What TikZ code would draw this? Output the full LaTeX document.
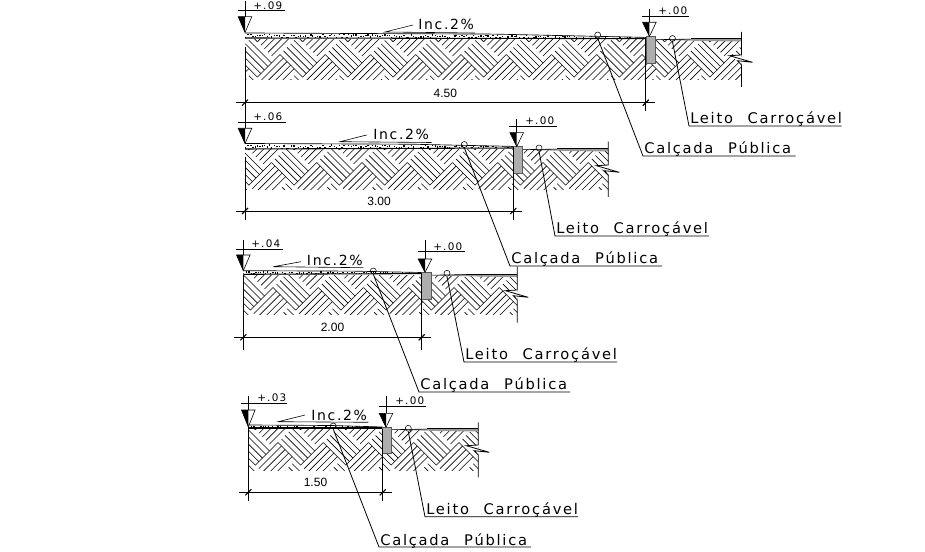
\documentclass[tikz,border=0pt]{standalone}
\usepackage{fontspec}
\setmainfont{Liberation Sans}
\newfontfamily\cadfont[LetterSpace=12]{DejaVu Sans}
\newfontfamily\cadlvlfont[LetterSpace=12]{DejaVu Sans}
\tikzset{
  px/.style={x=0.75pt,y=-0.75pt},
  base/.style={line width=0.6pt,black},
  thinl/.style={line width=0.45pt,black},
  hatchl/.style={line width=0.45pt,black},
  cadbig/.style={inner sep=0pt,anchor=base west,font=\cadfont\fontsize{11}{11}\selectfont},
  cadinc/.style={inner sep=0pt,anchor=base west,font=\cadfont\fontsize{10.5}{11}\selectfont},
  cadlvl/.style={inner sep=0pt,anchor=base west,font=\cadlvlfont\fontsize{7.8}{8}\selectfont},
  dimt/.style={inner sep=0pt,anchor=center,font=\fontsize{9}{9}\selectfont},
  ringm/.style={circle,draw,line width=0.4pt,inner sep=0pt,minimum size=4.5pt},
  curbb/.style={fill=black!32,draw=black!65,line width=0.4pt},
}
% weave hatch: #1 xl, #2 xr, #3 ytop, #4 ybot, #5 x0, #6 y0
\newcommand{\weave}[6]{%
  \begin{scope}
    \clip (#1,#3) rectangle (#2,#4);
    \begin{scope}[shift={(#5,#6)}]
    \begin{scope}[x={(.53033pt,-.53033pt)},y={(.53033pt,.53033pt)}]
      \foreach \i in {-2,...,11}{
        \foreach \j in {-2,...,2}{
          \begin{scope}[shift={({\i*32+\j*25},{\i*32-\j*25})}]
            \foreach \k in {0,5,...,20}{ \draw[hatchl] (0,\k) -- (32,\k); }
            \foreach \k in {0,5,...,20}{ \draw[hatchl] (32+\k,0) -- (32+\k,32); }
          \end{scope}
        }
      }
    \end{scope}
    \end{scope}
  \end{scope}
}
% level mark: #1 id, #2 x, #3 ytop, #4 yh, #5 ytri, #6 yapex, #7 xr, #8 text, #9 textx
\newcommand{\lvl}[9]{%
  \coordinate (#1top) at (#2,#3);
  \coordinate (#1apex) at (#2,#6);
  \coordinate (#1l) at ({#2-6.8},#5);
  \coordinate (#1r) at ({#2+6.8},#5);
  \coordinate (#1m) at (#2,#5);
  \coordinate (#1hl) at ({#2-7.5},#4);
  \coordinate (#1hr) at (#7,#4);
  \draw[base] (#1top) -- (#1m);
  \draw[base] (#1hl) -- (#1hr);
  \fill[black] (#1l) -- (#1m) -- (#1apex) -- cycle;
  \draw[thinl] (#1l) -- (#1r) -- (#1apex) -- cycle;
  \node[cadlvl] (#1t) at (#9,{#4-1.5}) {#8};
}
% callout: #1 id, #2 cx, #3 cy, #4 x, #5 y, #6 xend, #7 text
\newcommand{\callout}[7]{%
  \node[ringm] (#1c) at (#2,#3) {};
  \coordinate (#1a) at (#4,#5);
  \coordinate (#1b) at (#6,#5);
  \draw[base] (#1c.south) -- (#1a) -- (#1b);
  \node[cadbig] (#1t) at ({#4+1},{#5-2}) {#7};
}
% incline: #1 id, #2 x0, #3 y0, #4 x1, #5 y1, #6 xend, #7 yend, #8 textx, #9 texty
\newcommand{\incl}[9]{%
  \coordinate (#1a) at (#2,#3);
  \coordinate (#1b) at (#4,#5);
  \coordinate (#1c) at (#6,#7);
  \draw[thinl] (#1b) -- (#1a) -- (#1c);
  \node[cadinc] (#1t) at (#8,#9) {Inc.2\%};
}
% dimension: #1 id, #2 xl, #3 xr, #4 y, #5 ytopl, #6 ytopr, #7 ybot, #8 text
\newcommand{\dimn}[8]{%
  \coordinate (#1lt) at (#2,#5);
  \coordinate (#1lb) at (#2,#7);
  \coordinate (#1rt) at (#3,#6);
  \coordinate (#1rb) at (#3,#7);
  \coordinate (#1a) at ({#2-9},#4);
  \coordinate (#1b) at ({#3+9},#4);
  \draw[base] (#1lt) -- (#1lb);
  \draw[base] (#1rt) -- (#1rb);
  \draw[base] (#1a) -- (#1b);
  \draw[line width=0.8pt] ({#2-3},{#4+3}) -- ({#2+3},{#4-3});
  \draw[line width=0.8pt] ({#3-3},{#4+3}) -- ({#3+3},{#4-3});
  \node[dimt] (#1t) at ({(#2+#3)/2},{#4-9.5}) {#8};
}
% speckled walk surface: #1 xl, #2 ytl, #3 ybl, #4 xr, #5 ytr, #6 ybr
\newcommand{\walk}[6]{%
  \coordinate (wtl) at (#1,#2);
  \coordinate (wtm) at ({#1+.62*(#4-#1)},{#2+.25*(#5-#2)});
  \coordinate (wtr) at (#4,#5);
  \coordinate (wbr) at (#4,#6);
  \coordinate (wbl) at (#1,#3);
  \fill[white] (wtl) -- (wtm) -- (wtr) -- (wbr) -- (wbl) -- cycle;
  \pgfmathsetseed{7}
  \begin{scope}
  \clip (wtl) -- (wtm) -- (wtr) -- (wbr) -- (wbl) -- cycle;
  \pgfmathsetmacro{\stp}{2.4}
  \foreach \t in {0,\stp,...,410}{
    \pgfmathsetmacro{\xx}{#1+\t}
    \pgfmathsetmacro{\yy}{#2+(#3-#2)*(0.1+0.7*rnd)+0.4*(#5-#2)*\t/(#4-#1)}
    \pgfmathsetmacro{\ww}{0.6+1.4*rnd}
    \fill[black] (\xx,\yy) rectangle ({\xx+\ww},{\yy+1.3});
  }
  \end{scope}
  \draw[line width=0.5pt,black] (wtl) -- (wtm) -- (wtr);
  \draw[line width=0.8pt,black] (wbl) -- (wbr);
}
% road: #1 xl, #2 xr, #3 y
\newcommand{\road}[3]{%
  \fill[white] (#1,{#3-2}) rectangle (#2,{#3+1});
  \fill[black!40] (#1,{#3+1.2}) -- ({#1+35},{#3+.4}) -- (#2,{#3+.4}) -- (#2,{#3+3}) -- ({#1+50},{#3+2.6}) -- cycle;
  \draw[thinl] (#1,{#3+1.2}) -- ({#1+35},{#3+.6});
  \draw[line width=0.7pt] ({#1+35},{#3+.4}) -- (#2,{#3+.4});
}
% break symbol and end line: #1 x, #2 y, #3 ytop, #4 ybot
\newcommand{\brk}[4]{%
  \fill[white] (#1,#2) -- ({#1-12},{#2+.7}) -- ({#1-4},{#2+5.7}) -- (#1,{#2+10}) -- cycle;
  \draw[base] (#1,#3) -- (#1,#2) -- ({#1-12},{#2+.7}) -- ({#1+11},{#2+7.3}) -- ({#1-4},{#2+5.7}) -- (#1,{#2+10}) -- (#1,#4);
}
% curb: #1 xl #2 xr #3 ytop #4 ybot
\newcommand{\curbx}[4]{\draw[curbb] (#1,#3) rectangle (#2,#4);}
\newcommand{\calc}{Calçada\hspace{1em}Pública}
\newcommand{\leit}{Leito\hspace{1em}Carroçável}
\begin{document}
\begin{tikzpicture}[px]
\useasboundingbox (0,0) rectangle (925,552);
\fill[white] (0,0) rectangle (925,552);

% ---------- section 1
\weave{245}{741.5}{39.5}{80}{280}{54.5}
\walk{245}{33}{38}{646}{37.4}{38.6}
\road{655.7}{741.5}{38.5}
\curbx{646}{655.7}{36.7}{63.3}
\brk{741.5}{55}{32}{87}
\dimn{da}{245}{645.8}{102.7}{47}{37}{111.5}{4.50}
\lvl{la}{245}{1}{10.7}{16.7}{32.5}{285}{+.09}{253}
\lvl{lb}{649.4}{9}{16}{22.3}{36.5}{689}{+.00}{658}
\incl{ia}{385}{32}{413}{25}{475}{33}{418}{30}
\callout{ca}{597.7}{35}{643}{156}{795.7}{\calc}
\callout{cb}{672.5}{38.5}{689}{126}{841.7}{\leit}

% ---------- section 2
\weave{245}{608.3}{149.5}{190}{271.5}{162.5}
\walk{245}{143.5}{149}{513.5}{146.4}{148}
\road{522}{608.3}{148.5}
\curbx{513.5}{522}{146.7}{173}
\brk{608.3}{165}{141.7}{197}
\dimn{db}{245}{513.3}{211}{156.7}{147}{220}{3.00}
\lvl{lc}{245}{111}{122.3}{128.3}{143.5}{285.7}{+.06}{253}
\lvl{ld}{516.7}{119}{126}{132.7}{146.5}{556.7}{+.00}{525}
\incl{ib}{340}{141.7}{366.7}{135}{431.7}{142.5}{373}{139.3}
\callout{cc}{464.3}{144.5}{510}{266}{662}{\calc}
\callout{cd}{539}{148}{555}{236}{709}{\leit}

% ---------- section 3
\weave{243.3}{517.3}{276}{315}{273}{287.5}
\walk{243.3}{270.7}{274.3}{421.7}{272.5}{273.6}
\road{431}{517.3}{274}
\curbx{421.7}{431}{272.3}{299.3}
\brk{517.3}{290}{266.7}{322.7}
\dimn{dc}{243.3}{421.7}{337.3}{275}{273}{350}{2.00}
\lvl{le}{243.3}{240}{249.3}{255}{270.7}{282.7}{+.04}{251}
\lvl{lf}{425}{240}{251.7}{259}{272.3}{465}{+.00}{433}
\incl{ic}{273.3}{266.7}{301}{261.7}{363.3}{267.7}{306.7}{265.7}
\callout{ce}{373.3}{271}{419}{392}{570}{\calc}
\callout{cf}{447}{273.3}{464}{362}{617}{\leit}

% ---------- section 4
\weave{248.3}{478.3}{429}{470}{278}{442.5}
\walk{248.3}{425}{428}{382.7}{427}{428}
\road{391.7}{478.3}{428.5}
\curbx{382.7}{391.7}{427.3}{453.3}
\brk{478.3}{445}{422.3}{477.3}
\dimn{dd}{248.3}{382.7}{492.3}{429}{429}{501}{1.50}
\lvl{lg}{248.3}{396}{403.3}{410}{427}{286.7}{+.03}{257}
\lvl{lh}{386}{396}{406}{413.3}{427.3}{425.7}{+.00}{395}
\incl{id}{278.3}{421.7}{305}{415}{368.3}{422.3}{311}{420}
\callout{cg}{333.3}{426}{379}{547}{531}{\calc}
\callout{ch}{408.3}{428.3}{425}{516.7}{578}{\leit}
\end{tikzpicture}
\end{document}
